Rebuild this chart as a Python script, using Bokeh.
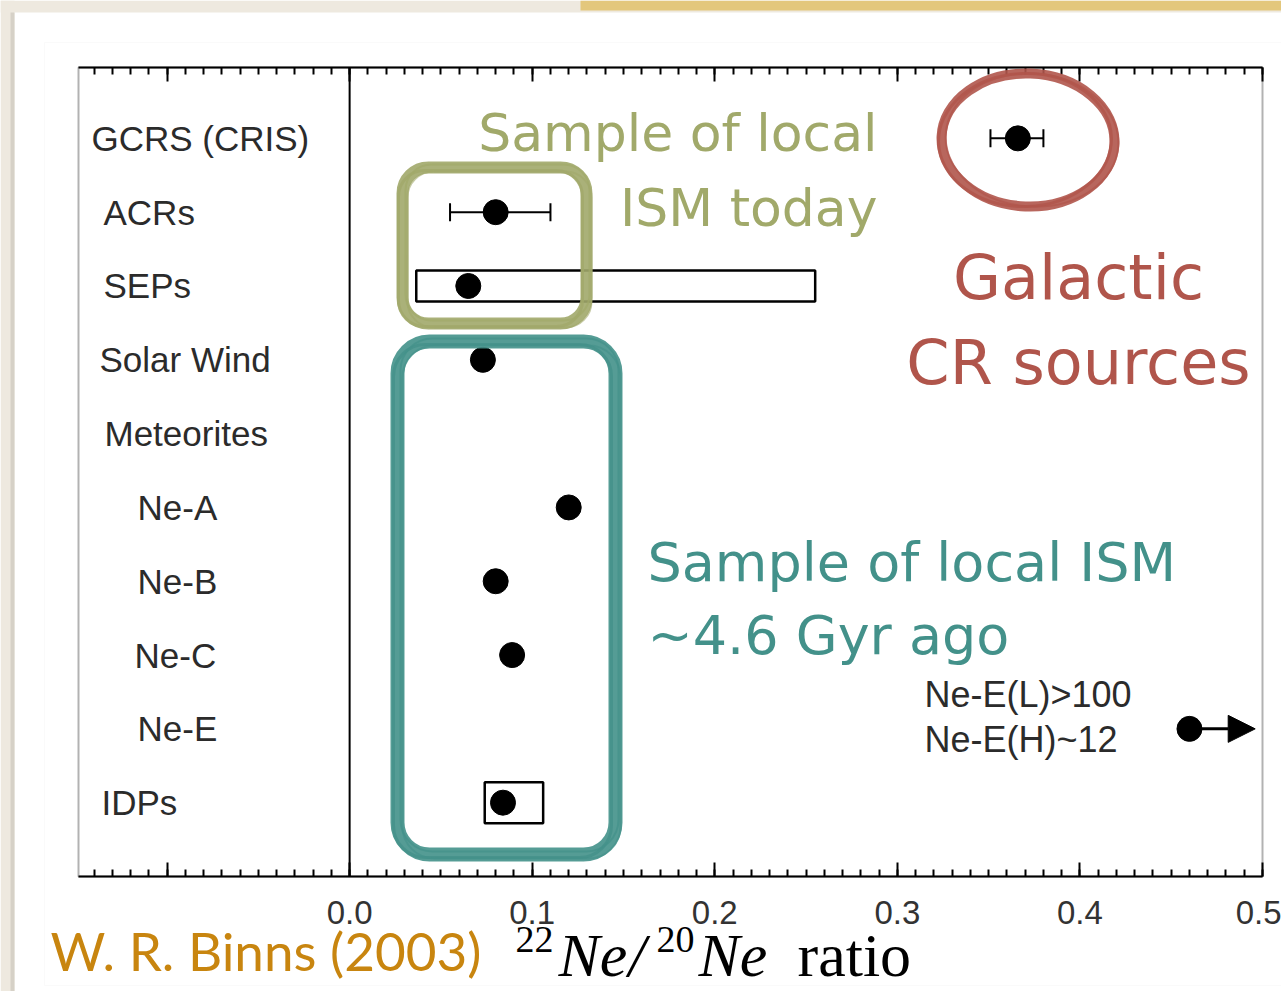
import numpy as np
from bokeh.plotting import figure
from bokeh.models import (ColumnDataSource, Whisker, TeeHead, Arrow, NormalHead,
                          BoxAnnotation, Label, LinearAxis,
                          SingleIntervalTicker, CustomJSTickFormatter)
from bokeh.core.properties import value
from bokeh.embed import file_html
from bokeh.resources import INLINE

# ---- data -------------------------------------------------------------
categories = ["GCRS (CRIS)", "ACRs", "SEPs", "Solar Wind", "Meteorites",
              "Ne-A", "Ne-B", "Ne-C", "Ne-E", "IDPs"]
category_row = [9, 8, 7, 6, 5, 4, 3, 2, 1, 0]

# 22Ne/20Ne ratio of each sample (Meteorites is a heading, no point)
point_name = ["GCRS (CRIS)", "ACRs", "SEPs", "Solar Wind",
              "Ne-A", "Ne-B", "Ne-C", "Ne-E", "IDPs"]
point_ratio = [0.366, 0.080, 0.065, 0.073, 0.120, 0.080, 0.089, 0.460, 0.084]
point_row = [9, 8, 7, 6, 4, 3, 2, 1, 0]

# uncertainty bars
err_name = ["GCRS (CRIS)", "ACRs"]
err_low = [0.351, 0.055]
err_high = [0.380, 0.110]
err_row = [9, 8]

# measured ranges
range_name = ["SEPs", "IDPs"]
range_low = [0.0365, 0.074]
range_high = [0.255, 0.106]
range_row = [7, 0]

# Ne-E lower limit (runs off the scale)
limit_start = 0.460
limit_end = 0.496
limit_row = 1

tick_interval = 0.1

# ---- layout -----------------------------------------------------------
W, H = 1281, 991
# chart box inside the page (pixels)
BOX_L, BOX_R, BOX_T, BOX_B = 78, 1262, 67, 876
X0, X1 = -0.1485, 0.5
Y0, Y1 = -1.0, 9.96
label_indent = [13, 25, 25, 21, 26, 59, 59, 56, 59, 23]   # px from box edge
range_box_px = [31, 41]


def px_x(px):
    return X0 + (px - BOX_L) / (BOX_R - BOX_L) * (X1 - X0)


def px_y(py):
    return Y1 - (py - BOX_T) / (BOX_B - BOX_T) * (Y1 - Y0)


# the plotting frame fills the page; the chart box is drawn inside it
p = figure(width=W, height=H,
           x_range=(px_x(0), px_x(W)), y_range=(px_y(H), px_y(0)),
           output_backend="svg", toolbar_location=None,
           x_axis_location=None, y_axis_location=None,
           min_border=0)
p.grid.visible = False
p.background_fill_color = "white"
p.border_fill_color = "white"
p.outline_line_color = None

# ---- slide background -------------------------------------------------
BEIGE = "#eee9df"


def canvas_box(l, r, t, b, **kw):
    p.add_layout(BoxAnnotation(left=l, right=r, top=t, bottom=b,
                               left_units="canvas", right_units="canvas",
                               top_units="canvas", bottom_units="canvas",
                               level="underlay", **kw))


canvas_box(0, W, 0, 12, fill_color=BEIGE, fill_alpha=1.0, line_color=None)
canvas_box(0, 14, 0, H, fill_color=BEIGE, fill_alpha=1.0, line_color=None)
canvas_box(580, W, 0, 10, fill_color="#e3c77c", fill_alpha=1.0, line_color=None)
canvas_box(10, 14, 12, H, fill_color="#d6d1c7", fill_alpha=1.0, line_color=None)
canvas_box(44, W + 5, 42, 985, fill_alpha=0, line_color="#efefef", line_width=1)

# ---- chart box and axes -----------------------------------------------
p.add_layout(BoxAnnotation(left=X0, right=X1, bottom=Y0, top=Y1,
                           fill_alpha=0, line_color="black", line_width=2,
                           level="underlay"))

for loc, at, show in (("below", Y0, True), ("above", Y1, False)):
    ax = LinearAxis(ticker=SingleIntervalTicker(interval=tick_interval,
                                                num_minor_ticks=10),
                    fixed_location=at, bounds=(X0, X1))
    ax.axis_line_color = "black"
    ax.axis_line_width = 2
    ax.major_tick_in, ax.major_tick_out = 14, 0
    ax.minor_tick_in, ax.minor_tick_out = 7, 0
    ax.major_tick_line_width = 2
    ax.minor_tick_line_width = 2
    if show:
        ax.formatter = CustomJSTickFormatter(
            code="return tick < -0.05 ? '' : tick.toFixed(1);")
        ax.major_label_text_font = "Liberation Sans"
        ax.major_label_text_font_size = "33px"
        ax.major_label_text_color = "#333333"
        ax.major_label_standoff = 24
    else:
        ax.formatter = CustomJSTickFormatter(code="return '';")
    p.add_layout(ax, loc)

# zero line
p.segment(x0=[0], y0=[Y0], x1=[0], y1=[Y1], line_color="black", line_width=2)

# ---- category labels --------------------------------------------------
lab_src = ColumnDataSource(dict(x=[X0] * len(categories), y=category_row,
                                text=categories, dx=label_indent))
p.text(x="x", y="y", text="text", x_offset="dx", source=lab_src,
       text_font=value("Liberation Sans"), text_font_size="35px",
       text_baseline="middle", text_color="#2b2b2b")

# ---- data marks -------------------------------------------------------
rng_src = ColumnDataSource(dict(
    x=[(a + b) / 2 for a, b in zip(range_low, range_high)],
    w=[b - a for a, b in zip(range_low, range_high)],
    y=range_row, h=range_box_px))
p.rect(x="x", y="y", width="w", height="h", height_units="screen",
       source=rng_src, fill_color=None, line_color="black", line_width=2.5)

err_src = ColumnDataSource(dict(base=err_row, lower=err_low, upper=err_high))
p.add_layout(Whisker(source=err_src, base="base", lower="lower",
                     upper="upper", dimension="width",
                     line_color="black", line_width=2,
                     upper_head=TeeHead(size=18, line_width=2),
                     lower_head=TeeHead(size=18, line_width=2)))

p.add_layout(Arrow(x_start=limit_start, y_start=limit_row,
                   x_end=limit_end, y_end=limit_row,
                   line_color="black", line_width=3,
                   end=NormalHead(size=27, fill_color="black",
                                  line_color="black")))

pt_src = ColumnDataSource(dict(x=point_ratio, y=point_row, name=point_name))
p.scatter(x="x", y="y", source=pt_src, size=25, marker="circle",
          fill_color="black", line_color="black")

# ---- hand-drawn highlights -------------------------------------------
OLIVE, TEAL, RED = "#a1a96a", "#43918a", "#b0554b"


def brush_box(l, r, t, b, color, lw, radius):
    for dx, dy, w, a in [(0, 0, lw, 0.9), (-4, 3, 3, 0.8), (3, -3, 2, 0.7),
                         (5, 4, 2, 0.6)]:
        p.add_layout(BoxAnnotation(
            left=px_x(l + dx), right=px_x(r + dx),
            top=px_y(t + dy), bottom=px_y(b + dy),
            fill_alpha=0, line_color=color, line_width=w, line_alpha=a,
            border_radius=radius, level="overlay"))


brush_box(402, 586, 167, 323, OLIVE, 12, 26)
brush_box(397, 615, 341, 854, TEAL, 14, 32)

for ang, lw, a, dx in [(-0.04, 10, 0.9, 0), (0.03, 3, 0.8, -3), (-0.08, 2, 0.7, 4)]:
    p.ellipse(x=px_x(1027.5 + dx), y=px_y(139.5), width=173, height=133,
              width_units="screen", height_units="screen", angle=ang,
              fill_color=None, line_color=RED, line_width=lw, line_alpha=a,
              level="overlay")


# ---- annotation texts -------------------------------------------------
def add_text(px, baseline, txt, font, size, color, align="left",
             style="normal"):
    # labels are anchored on their vertical middle; lift to the baseline
    py = baseline - 0.37 * size
    p.add_layout(Label(x=px_x(px), y=px_y(py), text=txt, text_font=font,
                       text_font_size=f"{size}px", text_color=color,
                       text_align=align, text_baseline="middle",
                       text_font_style=style))


add_text(877, 152, "Sample of local", "DejaVu Sans", 52, OLIVE, "right")
add_text(877, 227, "ISM today", "DejaVu Sans", 52, OLIVE, "right")
add_text(1078, 300, "Galactic", "DejaVu Sans", 62, RED, "center")
add_text(1078, 385, "CR sources", "DejaVu Sans", 62, RED, "center")
add_text(647, 582, "Sample of local ISM", "DejaVu Sans", 54, TEAL)
add_text(647, 655, "~4.6 Gyr ago", "DejaVu Sans", 54, TEAL)
add_text(924, 707, "Ne-E(L)>100", "Liberation Sans", 36, "#2b2b2b")
add_text(924, 752, "Ne-E(H)~12", "Liberation Sans", 36, "#2b2b2b")

# axis title 22Ne/20Ne ratio
SERIF = "Liberation Serif"
add_text(515, 953, "22", SERIF, 38, "black")
add_text(558, 977, "Ne", SERIF, 62, "black", style="italic")
add_text(628, 977, "/", SERIF, 62, "black", style="italic")
add_text(656, 953, "20", SERIF, 38, "black")
add_text(698, 977, "Ne", SERIF, 62, "black", style="italic")
add_text(797, 977, "ratio", SERIF, 62, "black")

add_text(50, 970, "W. R. Binns (2003)", "Lato", 53, "#c8850f")

open("out.html", "w").write(file_html(p, INLINE))
